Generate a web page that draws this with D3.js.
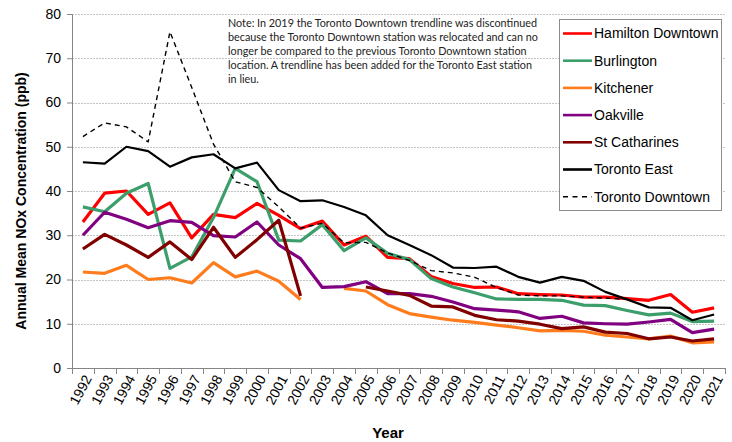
<!DOCTYPE html>
<html>
<head>
<meta charset="utf-8">
<script src="https://cdn.jsdelivr.net/npm/d3@7"></script>
<style>
  body { margin: 0; background: #fff; }
  svg { display: block; font-family: "Liberation Sans", Arial, sans-serif; }
</style>
</head>
<body>
<div id="chart"></div>
<script>
var years = ["1992","1993","1994","1995","1996","1997","1998","1999","2000","2001",
             "2002","2003","2004","2005","2006","2007","2008","2009","2010","2011",
             "2012","2013","2014","2015","2016","2017","2018","2019","2020","2021"];

var hamilton      = [33.0, 39.5, 40.0, 34.7, 37.3, 29.4, 34.7, 34.0, 37.2, 34.5, 31.5, 33.2, 27.8, 29.8, 25.0, 24.7, 20.7, 19.1, 18.2, 18.3, 16.8, 16.6, 16.5, 16.0, 16.0, 15.7, 15.3, 16.6, 12.6, 13.6];
var burlington    = [36.4, 35.3, 39.5, 41.7, 22.5, 25.1, 34.0, 45.1, 42.1, 28.9, 28.7, 32.4, 26.5, 29.4, 25.9, 24.5, 20.2, 18.3, 17.0, 15.6, 15.5, 15.5, 15.3, 14.2, 14.1, 13.0, 12.0, 12.4, 10.5, 10.6];
var kitchener     = [21.7, 21.4, 23.2, 20.0, 20.4, 19.2, 23.8, 20.6, 21.9, 19.6, 15.5, null, 18.0, 17.4, 14.3, 12.3, 11.5, 10.8, 10.3, 9.7, 9.1, 8.4, 8.5, 8.3, 7.4, 7.0, 6.6, 7.2, 5.7, 5.9];
var oakville      = [30.0, 35.2, 33.6, 31.7, 33.3, 32.9, 29.9, 29.6, 33.0, 27.8, 24.7, 18.2, 18.4, 19.5, 16.8, 16.8, 16.2, 14.9, 13.4, 13.1, 12.7, 11.2, 11.7, 10.2, 10.0, 9.9, 10.4, 11.0, 8.0, 8.8];
var stCatharines  = [26.9, 30.2, 27.8, 25.0, 28.5, 24.5, 31.8, 25.0, 29.0, 33.4, 16.3, null, null, 18.3, 17.4, 16.4, 14.0, 13.8, 11.9, 10.9, 10.6, 9.9, 8.9, 9.3, 8.1, 7.8, 6.6, 7.0, 6.1, 6.6];
var torontoEast   = [46.5, 46.2, 50.0, 49.0, 45.5, 47.6, 48.3, 45.1, 46.4, 40.2, 37.7, 37.9, 36.4, 34.5, 30.0, 27.8, 25.5, 22.7, 22.6, 22.9, 20.6, 19.3, 20.6, 19.7, 17.2, 15.5, 13.7, 13.6, 10.8, 12.1];
var torontoDowntown = [52.3, 55.4, 54.5, 51.1, 76.0, 63.4, 50.6, 42.1, 40.8, 36.4, 31.6, 32.7, 28.3, 28.4, 26.0, 24.3, 22.0, 21.5, 20.5, 18.2, 16.5, 16.3, 16.3, 16.0, 15.8, 15.5, null, null, null, null];

var seriesNames = ["Hamilton Downtown","Burlington","Kitchener","Oakville","St Catharines","Toronto East","Toronto Downtown"];
var yTicks = [0, 10, 20, 30, 40, 50, 60, 70, 80];

var noteLines = [
  "Note: In 2019 the Toronto Downtown trendline was discontinued",
  "because the Toronto Downtown station was relocated and can no",
  "longer be compared to the previous Toronto Downtown station",
  "location. A trendline has been added for the Toronto East station",
  "in lieu."
];

var W = 732, H = 442;
var pLeft = 72, pRight = 725, pTop = 14, pBottom = 368;

var series = [
  { name: seriesNames[0], values: hamilton,        color: "#ff0000", width: 3.2 },
  { name: seriesNames[1], values: burlington,      color: "#3c9f6b", width: 3.2 },
  { name: seriesNames[2], values: kitchener,       color: "#ff7c1c", width: 3.2 },
  { name: seriesNames[3], values: oakville,        color: "#800080", width: 3.2 },
  { name: seriesNames[4], values: stCatharines,    color: "#800000", width: 3.2 },
  { name: seriesNames[5], values: torontoEast,     color: "#000000", width: 2.2 },
  { name: seriesNames[6], values: torontoDowntown, color: "#000000", width: 1.4, dash: "5,4" }
];

var svg = d3.select("#chart").append("svg")
    .attr("width", W).attr("height", H);

var xBand = d3.scaleBand().domain(years).range([pLeft, pRight]);
var x = function(yr) { return xBand(yr) + xBand.bandwidth() / 2; };
var y = d3.scaleLinear().domain([0, 80]).range([pBottom, pTop]);

// gridlines
svg.append("g").attr("class", "grid")
  .selectAll("line")
  .data(yTicks.filter(function(t) { return t > 0; }))
  .enter().append("line")
    .attr("x1", pLeft).attr("x2", pRight)
    .attr("y1", function(d) { return Math.round(y(d)) + 0.5; })
    .attr("y2", function(d) { return Math.round(y(d)) + 0.5; })
    .attr("stroke", "#c4c4c4")
    .attr("stroke-dasharray", "2,1")
    .attr("stroke-width", 1);

// y axis
var yAxis = d3.axisLeft(y).tickValues(yTicks).tickSize(5).tickPadding(6);
var gy = svg.append("g")
    .attr("transform", "translate(" + pLeft + ",0)")
    .call(yAxis);
gy.select(".domain").attr("stroke", "#868686");
gy.selectAll(".tick line").attr("stroke", "#868686");
gy.selectAll(".tick text").attr("font-size", 14).attr("fill", "#000")
    .attr("font-family", "Liberation Sans, Arial, sans-serif");

// x axis: ticks on band edges, labels at centres
var gx = svg.append("g").attr("class", "xaxis");
gx.append("line")
    .attr("x1", pLeft).attr("x2", pRight)
    .attr("y1", pBottom + 0.5).attr("y2", pBottom + 0.5)
    .attr("stroke", "#868686");
gx.selectAll("line.tk")
  .data(years.concat(["end"]))
  .enter().append("line")
    .attr("class", "tk")
    .attr("x1", function(d, i) { return Math.round(pLeft + i * xBand.step()) + 0.5; })
    .attr("x2", function(d, i) { return Math.round(pLeft + i * xBand.step()) + 0.5; })
    .attr("y1", pBottom).attr("y2", pBottom + 6)
    .attr("stroke", "#868686");
gx.selectAll("text")
  .data(years)
  .enter().append("text")
    .attr("transform", function(d) { return "translate(" + (x(d) + 5) + "," + (pBottom + 8) + ") rotate(-62)"; })
    .attr("text-anchor", "end")
    .attr("dy", "0.35em")
    .attr("font-size", 14)
    .text(function(d) { return d; });

// lines
var line = d3.line()
    .defined(function(d) { return d.v != null; })
    .x(function(d) { return x(d.yr); })
    .y(function(d) { return y(d.v); });

svg.append("g").attr("class", "lines")
  .selectAll("path")
  .data(series)
  .enter().append("path")
    .attr("fill", "none")
    .attr("stroke", function(d) { return d.color; })
    .attr("stroke-width", function(d) { return d.width; })
    .attr("stroke-dasharray", function(d) { return d.dash || null; })
    .attr("stroke-linejoin", "round")
    .attr("d", function(d) {
      return line(d.values.map(function(v, i) { return { yr: years[i], v: v }; }));
    });

// axis titles
svg.append("text")
    .attr("transform", "translate(26," + ((pTop + pBottom) / 2 + 10) + ") rotate(-90)")
    .attr("text-anchor", "middle")
    .attr("font-size", 14).attr("font-weight", "bold")
    .text("Annual Mean NOx Concentration (ppb)");

svg.append("text")
    .attr("x", 388).attr("y", 438)
    .attr("text-anchor", "middle")
    .attr("font-size", 15).attr("font-weight", "bold")
    .text("Year");

// note
var note = svg.append("text")
    .attr("font-family", "Lato, 'Open Sans', sans-serif")
    .attr("font-size", 10.8)
    .attr("fill", "#222");
note.selectAll("tspan")
  .data(noteLines)
  .enter().append("tspan")
    .attr("x", 228)
    .attr("y", function(d, i) { return 27 + i * 14; })
    .text(function(d) { return d; });

// legend
var lg = svg.append("g").attr("class", "legend");
lg.append("rect")
    .attr("x", 559.5).attr("y", 19.5)
    .attr("width", 162).attr("height", 191)
    .attr("fill", "#fff").attr("stroke", "#8c8c8c");
var item = lg.selectAll("g.item")
  .data(series)
  .enter().append("g")
    .attr("class", "item")
    .attr("transform", function(d, i) { return "translate(0," + (33.5 + i * 27.2) + ")"; });
item.append("line")
    .attr("x1", 563).attr("x2", 592)
    .attr("stroke", function(d) { return d.color; })
    .attr("stroke-width", function(d) { return d.dash ? 1.4 : 2.6; })
    .attr("stroke-dasharray", function(d) { return d.dash ? "5,4.5" : null; });
item.append("text")
    .attr("x", 594).attr("dy", "0.35em")
    .attr("font-size", 14)
    .text(function(d) { return d.name; });
</script>
</body>
</html>
